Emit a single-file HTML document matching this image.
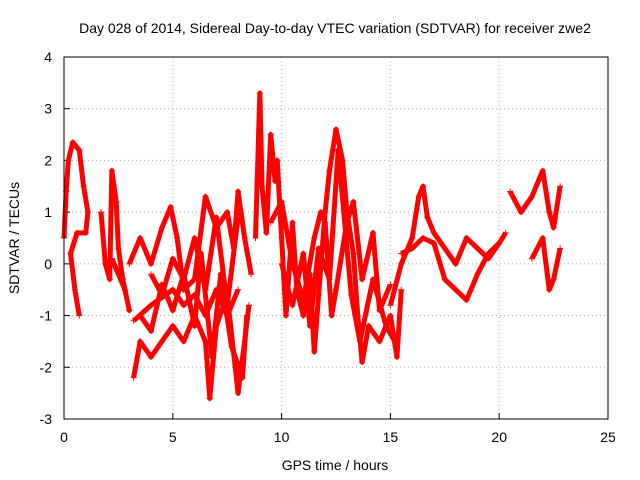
<!DOCTYPE html>
<html><head><meta charset="utf-8"><style>
body{margin:0;background:#fff;}
svg{display:block;font-family:"Liberation Sans",sans-serif;}
</style></head><body>
<svg id="chart" width="640" height="480">
<text x="335" y="33" font-size="14" text-anchor="middle">Day 028 of 2014, Sidereal Day-to-day VTEC variation (SDTVAR) for receiver zwe2</text>
<text x="335" y="470" font-size="14" text-anchor="middle">GPS time / hours</text>
<text x="19" y="238" font-size="14" text-anchor="middle" transform="rotate(-90 19 238)">SDTVAR / TECUs</text>
<g id="grid"></g>
<g id="ticks"></g>
<g id="series"></g>
<rect x="64" y="57" width="544" height="362" fill="none" stroke="#000"/>
</svg>
<script>
const xTicks=[0,5,10,15,20,25];
const yTicks=[-3,-2,-1,0,1,2,3,4];
const trace1=[[0,0.5],[0.1,1.4],[0.2,2.0],[0.4,2.35],[0.7,2.2],[0.9,1.5],[1.1,1.0],[1.0,0.6],[0.6,0.6],[0.3,0.2],[0.5,-0.5],[0.7,-1.0]];
const trace2=[[1.7,1.0],[1.9,0.0],[2.1,-0.3],[2.2,1.8],[2.4,1.2],[2.5,0.3],[2.7,-0.3],[3.0,-0.9],[2.8,-0.5],[2.5,-0.2],[2.2,0.1]];
const trace3=[[3.2,-2.2],[3.5,-1.5],[4,-1.8],[4.5,-1.5],[5,-1.2],[5.5,-1.5],[6,-1.0],[6.5,-1.5],[6.7,-2.6],[7,-1.2],[7.5,-0.6],[8,-2.5],[8.3,-1.5],[8.5,-0.8]];
const trace4=[[3.0,0.0],[3.5,0.5],[4,0.0],[4.5,0.7],[4.9,1.1],[5.2,0.5],[5.5,-0.5],[6,-0.3],[6.5,1.3],[7,0.7],[7.5,1.0],[7.8,0.3],[8,1.4],[8.3,0.5],[8.6,-0.2]];
const trace5=[[3.2,-1.1],[4,-0.8],[5,-0.5],[5.5,-0.8],[6,-0.6],[6.5,-1.0],[7,-0.5],[7.5,-1.0],[8,-0.5]];
const trace5b=[[3.5,-1.0],[4,-1.3],[4.5,-0.4],[5,-0.9],[5.5,-0.2],[6,-1.2],[6.3,0.2],[6.8,-1.8],[7.2,-0.2],[7.7,-1.6],[8.2,-2.2],[8.4,-1.0]];
const trace5c=[[4,-0.2],[4.5,-0.6],[5,0.1],[5.5,-0.3],[6,0.5],[6.5,-0.5],[7,0.9],[7.5,-0.8],[8,0.9]];
const trace6=[[8.8,0.5],[9,3.3],[9.1,1.5],[9.3,0.6],[9.5,2.5],[9.7,1.6],[9.8,2.0],[10,0.5],[10.2,-1.0],[10.5,0.8],[10.7,-0.5],[11,-1.0],[11.3,-0.2],[11.5,-1.7],[11.7,-0.6],[12,1.0],[12.2,1.8],[12.5,2.6],[12.8,2.0],[13,1.0],[13.3,0.2],[13.5,-1.0],[13.7,-1.9],[14,-1.2],[14.5,-1.5],[15,-1.0],[15.3,-1.8],[15.5,-0.5]];
const trace7=[[9.5,0.8],[10,1.2],[10.5,0.0],[11,-0.7],[11.5,0.5],[11.8,1.0],[12,0.8],[12.3,-1.0],[12.5,-0.5],[13,0.8],[13.3,1.2],[13.7,-0.3],[14.2,0.6],[14.5,-0.9],[15,-0.4]];
const trace7b=[[10,0.0],[10.5,-0.8],[11,0.2],[11.3,-1.2],[11.7,0.3],[12.2,-0.3],[12.6,2.2],[13.2,-0.6],[13.6,-1.5],[14.2,-0.3],[14.8,-1.2],[15.2,-1.5]];
const trace8=[[15,-0.8],[15.5,0.0],[16,0.5],[16.3,1.3],[16.5,1.5],[16.7,0.9],[17,0.6],[17.5,0.3],[18,0.0],[18.5,0.5],[19,0.3],[19.5,0.1],[20,0.4],[20.3,0.6]];
const trace9=[[15.5,0.2],[16,0.3],[16.5,0.5],[17,0.4],[17.5,-0.3],[18,-0.5],[18.5,-0.7],[19,-0.2],[19.5,0.2],[20,0.4]];
const trace10=[[20.5,1.4],[21,1.0],[21.5,1.3],[22,1.8],[22.3,1.0],[22.5,0.7],[22.8,1.5]];
const trace11=[[21.5,0.1],[22,0.5],[22.3,-0.5],[22.5,-0.3],[22.8,0.3]];
const traces=[trace1,trace2,trace3,trace4,trace5,trace5b,trace5c,trace6,trace7,trace7b,trace8,trace9,trace10,trace11];

const NS="http://www.w3.org/2000/svg";
const X=v=>64+v*(544/25), Y=v=>419-(v+3)*(362/7);
function mk(t,a,p){const e=document.createElementNS(NS,t);for(const k in a)e.setAttribute(k,a[k]);p.appendChild(e);return e;}
const grid=document.getElementById('grid'),ticks=document.getElementById('ticks'),ser=document.getElementById('series');
xTicks.forEach(t=>{
  if(t>0&&t<25){const g=mk('line',{x1:X(t),x2:X(t),y1:57,y2:419,stroke:'#aaa','stroke-dasharray':'1,3'},grid);
  }
  mk('line',{x1:X(t),x2:X(t),y1:419,y2:413,stroke:'#000'},ticks);
  const l=mk('text',{x:X(t),y:442,'font-size':14,'text-anchor':'middle'},ticks);l.textContent=t;
  
});
yTicks.forEach(t=>{
  if(t>-3&&t<4){const g=mk('line',{x1:64,x2:608,y1:Y(t),y2:Y(t),stroke:'#aaa','stroke-dasharray':'1,3'},grid);
  }
  mk('line',{x1:64,x2:70,y1:Y(t),y2:Y(t),stroke:'#000'},ticks);
  const l=mk('text',{x:52,y:Y(t)+5,'font-size':14,'text-anchor':'end'},ticks);l.textContent=t;
  
});
traces.forEach(tr=>{
  const p=mk('polyline',{points:tr.map(d=>X(d[0])+','+Y(d[1])).join(' '),fill:'none',stroke:'#f00','stroke-width':5,'stroke-linejoin':'round'},ser);
  
  tr.forEach(d=>{
    const m=mk('path',{d:`M${X(d[0])-3},${Y(d[1])}h6M${X(d[0])},${Y(d[1])-3}v6`,stroke:'#f00','stroke-width':1},ser);
    
  });
});
</script>
</body></html>
